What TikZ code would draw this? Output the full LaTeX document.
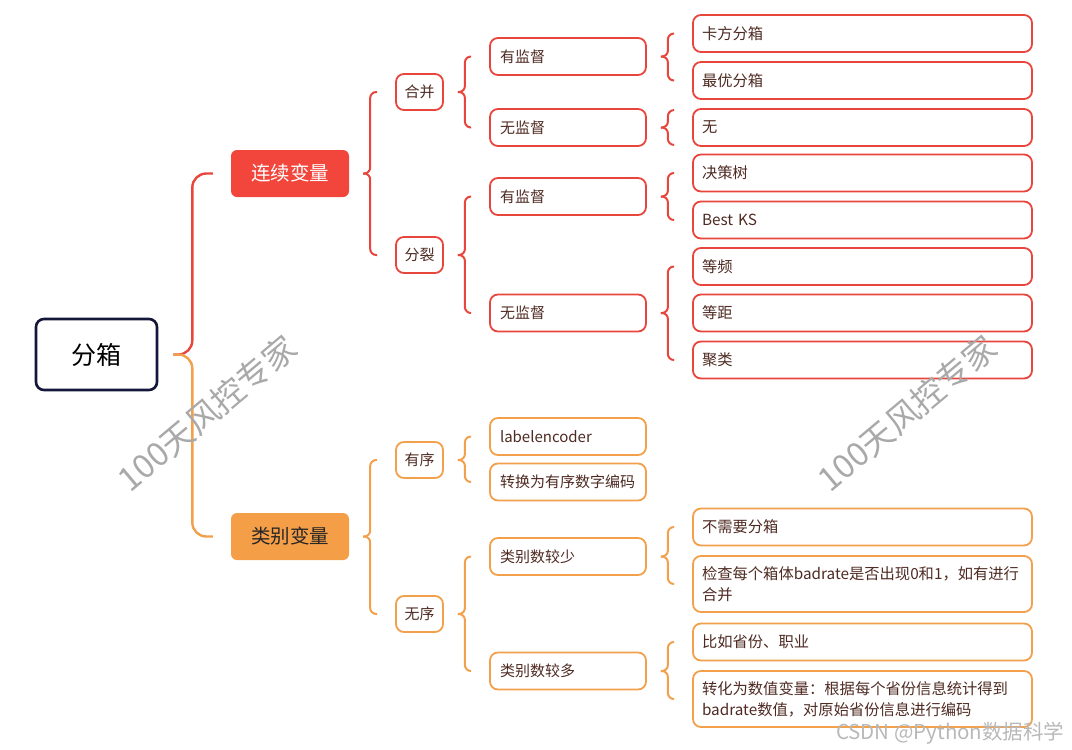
\documentclass[tikz,border=0pt]{standalone}
\usepackage{fontspec}
\setmainfont{Noto Sans CJK SC}
\usetikzlibrary{calc}
\definecolor{redline}{HTML}{E8453C}
\definecolor{redfill}{HTML}{F2453B}
\definecolor{orgline}{HTML}{F2A04C}
\definecolor{orgfill}{HTML}{F49E48}
\definecolor{navy}{HTML}{14163A}
\definecolor{txt}{HTML}{4E2A22}
\definecolor{wmark}{HTML}{A9A9A9}
\tikzset{
  root/.style={
    rectangle,
    draw=navy, line width=2.6pt,
    rounded corners=8pt,
    minimum width=121pt, minimum height=71pt,
    font=\fontsize{25}{30}\selectfont},
  catbox/.style={rectangle, rounded corners=6pt, minimum width=118pt, minimum height=47pt,
    font=\fontsize{19.5}{24}\selectfont},
  mid/.style={rectangle, draw, line width=1.8pt, rounded corners=8pt, inner sep=0pt,
    minimum width=47pt, minimum height=36pt, text=txt, font=\fontsize{15}{18}\selectfont},
  sub/.style={mid, minimum width=156pt, minimum height=37pt, text width=136pt, align=left},
  leaf/.style={mid, minimum width=339pt, minimum height=37pt, text width=321pt, align=left,
    font=\fontsize{15.3}{21}\selectfont},
  arm/.style={line width=2pt, rounded corners=6pt},
  wm/.style={text=wmark, font=\fontsize{33}{36}\selectfont},
}
% one half of a brace: parent -> child
\newcommand{\arm}[3][]{\draw[arm,#1] ($(#2.east)+(14,0)$) -- ++(7,0) |- ($(#3.west)+(-18,0)$);}

\begin{document}
\begin{tikzpicture}[x=1pt,y=-1pt]
\useasboundingbox (0,0) rectangle (1072,750);

\node[root] at (96.5,354.5) (bin) {分箱};

\node[catbox, fill=redfill, text=white] at (290,173.5) (cont) {连续变量};
\node[catbox, fill=orgfill, text=black!85] at (290,536.5) (catg) {类别变量};

% continuous branch
\node[mid, draw=redline] at (419.5,92) (merge) {合并};
\node[mid, draw=redline] at (419.5,255) (split) {分裂};

\node[sub, draw=redline] at (568,56.5) (ms1) {有监督};
\node[sub, draw=redline] at (568,127.5) (ms2) {无监督};
\node[sub, draw=redline] at (568,196.5) (ss1) {有监督};
\node[sub, draw=redline] at (568,313) (ss2) {无监督};

\node[leaf, draw=redline] at (862.5,33.5) (chi) {卡方分箱};
\node[leaf, draw=redline] at (862.5,80.5) (opt) {最优分箱};
\node[leaf, draw=redline] at (862.5,127.5) (none) {无};
\node[leaf, draw=redline] at (862.5,173) (tree) {决策树};
\node[leaf, draw=redline] at (862.5,220) (bks) {Best KS};
\node[leaf, draw=redline] at (862.5,266.5) (efreq) {等频};
\node[leaf, draw=redline] at (862.5,313) (edist) {等距};
\node[leaf, draw=redline] at (862.5,360) (clus) {聚类};

% categorical branch
\node[mid, draw=orgline] at (419.5,460) (ordr) {有序};
\node[mid, draw=orgline] at (419.5,614) (unord) {无序};

\node[sub, draw=orgline] at (568,436.5) (lenc) {labelencoder};
\node[sub, draw=orgline] at (568,482) (ocode) {转换为有序数字编码};
\node[sub, draw=orgline] at (568,556.5) (few) {类别数较少};
\node[sub, draw=orgline] at (568,671) (many) {类别数较多};

\node[leaf, draw=orgline] at (862.5,527) (noneed) {不需要分箱};
\node[leaf, draw=orgline, minimum height=56pt] at (862.5,584) (check) {检查每个箱体badrate是否出现0和1，如有进行\\合并};
\node[leaf, draw=orgline] at (862.5,642) (prov) {比如省份、职业};
\node[leaf, draw=orgline, minimum height=56pt] at (862.5,699) (conv) {转化为数值变量：根据每个省份信息统计得到\\badrate数值，对原始省份信息进行编码};

% root brace
\draw[line width=2.4pt, rounded corners=14pt, redline] ($(bin.east)+(15,0)$) -- ++(19,0) |- ($(cont.west)+(-18,0)$);
\draw[line width=2.4pt, rounded corners=14pt, orgline] ($(bin.east)+(15,0)$) -- ++(19,0) |- ($(catg.west)+(-18,0)$);

\arm[redline]{cont}{merge}
\arm[redline]{cont}{split}
\arm[redline]{merge}{ms1}
\arm[redline]{merge}{ms2}
\arm[redline]{split}{ss1}
\arm[redline]{split}{ss2}
\arm[redline]{ms1}{chi}
\arm[redline]{ms1}{opt}
\draw[arm,redline] ($(ms2.east)+(14,0)$) -- ++(7,0) |- ($(none.north west)+(-18,2)$);
\draw[arm,redline] ($(ms2.east)+(14,0)$) -- ++(7,0) |- ($(none.south west)+(-18,-2)$);
\arm[redline]{ss1}{tree}
\arm[redline]{ss1}{bks}
\arm[redline]{ss2}{efreq}
\arm[redline]{ss2}{clus}

\arm[orgline]{catg}{ordr}
\arm[orgline]{catg}{unord}
\arm[orgline]{ordr}{lenc}
\arm[orgline]{ordr}{ocode}
\arm[orgline]{unord}{few}
\arm[orgline]{unord}{many}
\arm[orgline]{few}{noneed}
\arm[orgline]{few}{check}
\arm[orgline]{many}{prov}
\arm[orgline]{many}{conv}

% watermarks
\node[wm, rotate=40] at (207,413) (wm1) {100天风控专家};
\node[wm, rotate=40] at (907,413) (wm2) {100天风控专家};
\node[text=black!28, font=\fontsize{20.5}{24}\selectfont, anchor=east] at (1068,733) (csdn) {CSDN @Python数据科学};
\end{tikzpicture}
\end{document}
